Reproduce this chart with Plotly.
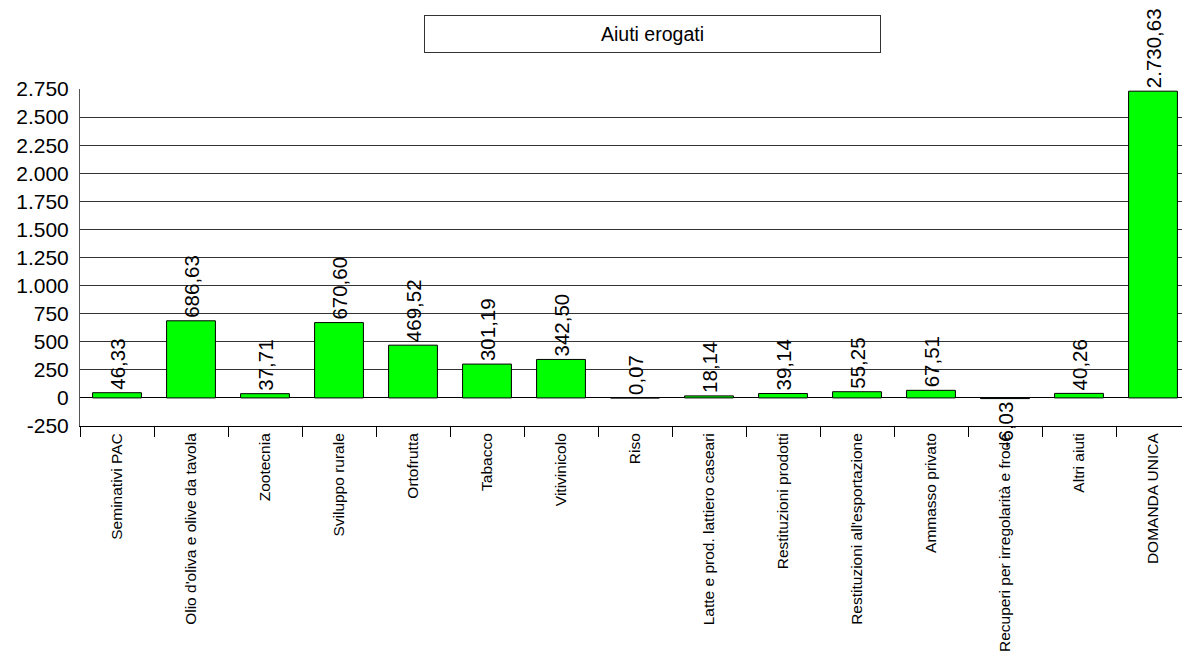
import plotly.graph_objects as go

categories = [
    "Seminativi PAC",
    "Olio d'oliva e olive da tavola",
    "Zootecnia",
    "Sviluppo rurale",
    "Ortofrutta",
    "Tabacco",
    "Vitivinicolo",
    "Riso",
    "Latte e prod. lattiero caseari",
    "Restituzioni prodotti",
    "Restituzioni all'esportazione",
    "Ammasso privato",
    "Recuperi per irregolarità e frode",
    "Altri aiuti",
    "DOMANDA UNICA",
]
values = [46.33, 686.63, 37.71, 670.60, 469.52, 301.19, 342.50, 0.07,
          18.14, 39.14, 55.25, 67.51, -6.03, 40.26, 2730.63]

tick_vals = [-250, 0, 250, 500, 750, 1000, 1250, 1500, 1750, 2000, 2250, 2500, 2750]
tick_text = ["-250", "0", "250", "500", "750", "1.000", "1.250", "1.500",
             "1.750", "2.000", "2.250", "2.500", "2.750"]

FONT = "Liberation Sans, Arial, sans-serif"

W, H = 1182, 656
L, R, T, B = 72, 0, 81, 238
PW, PH = W - L - R, H - T - B

fig = go.Figure()
fig.add_trace(go.Bar(
    x=categories,
    y=values,
    marker=dict(color="#00FF00", line=dict(color="black", width=1)),
    texttemplate="%{y:,.2f}",
    textposition="outside",
    textangle=-90,
    constraintext="none",
    cliponaxis=False,
    outsidetextfont=dict(family=FONT, size=20.5, color="black"),
    hoverinfo="skip",
))

fig.update_layout(
    width=W,
    height=H,
    margin=dict(l=L, r=R, t=T, b=B, pad=0),
    paper_bgcolor="white",
    plot_bgcolor="white",
    separators=",.",
    bargap=0.34,
    showlegend=False,
    font=dict(family=FONT, color="black"),
    annotations=[dict(
        text="Aiuti erogati",
        xref="paper", yref="paper",
        x=(644.7 - L) / PW, y=1 + (T - 26.3) / PH,
        xanchor="center", yanchor="middle",
        showarrow=False,
        font=dict(family=FONT, size=19.5, color="black"),
        width=455, height=36,
        bordercolor="#333333", borderwidth=1, borderpad=0,
        bgcolor="white",
    )],
)

fig.update_xaxes(
    type="category",
    tickangle=-90,
    tickfont=dict(family=FONT, size=15.5, color="black"),
    ticks="outside",
    tickson="boundaries",
    ticklen=10,
    tickcolor="black",
    showline=True,
    linecolor="black",
    linewidth=1,
    showgrid=False,
)

fig.update_yaxes(
    range=[-250, 2750],
    tickvals=tick_vals,
    ticktext=tick_text,
    tickfont=dict(family=FONT, size=21, color="black"),
    showgrid=True,
    gridcolor="#333333",
    gridwidth=1,
    zeroline=True,
    zerolinecolor="black",
    zerolinewidth=1,
    showline=True,
    linecolor="#555555",
    linewidth=1,
    ticks="",
    ticklabelstandoff=6,
)

fig.write_html("out.html")
